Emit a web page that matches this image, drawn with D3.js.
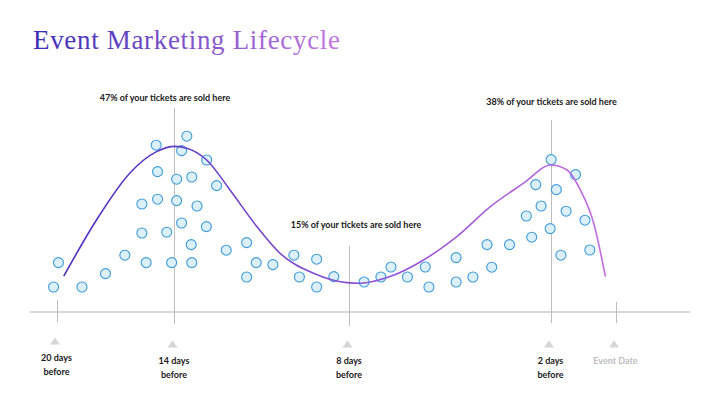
<!DOCTYPE html>
<html>
<head>
<meta charset="utf-8">
<script src="https://cdn.jsdelivr.net/npm/d3@7"></script>
<style>
  body { margin: 0; background: #fff; }
  svg { display: block; }
  .label { font-family: Lato, "Open Sans", sans-serif; font-weight: 700; font-size: 9px; fill: #1a1a1a; }
</style>
</head>
<body>
<svg id="chart" width="720" height="395"></svg>
<script>
// x = days before the event, y = ticket sales (relative)
const tickDays = [20, 14, 8, 2, 0];
const tickLabels = [["20 days", "before"], ["14 days", "before"], ["8 days", "before"], ["2 days", "before"], ["Event Date"]];

const dotDays = [19.90, 20.15, 18.70, 17.50, 16.51, 15.64, 15.64, 15.42, 14.91, 14.84,
  14.84, 14.37, 14.12, 13.91, 13.91, 13.74, 13.56, 13.39, 13.74, 13.21,
  12.89, 13.41, 13.39, 12.88, 12.54, 12.21, 11.51, 11.18, 11.51, 10.61,
  9.89, 9.70, 9.11, 9.11, 8.52, 7.55, 7.05, 6.75, 6.26, 5.73,
  5.62, 4.81, 4.81, 4.31, 3.75, 3.89, 3.22, 2.56, 2.72, 2.28,
  2.44, 2.01, 1.98, 1.82, 1.68, 1.52, 1.23, 0.94, 0.79];
const dotValues = [24.7, 12.5, 12.5, 19.2, 28.4, 39.5, 54.0, 24.7, 83.4, 70.2,
  56.4, 39.9, 24.7, 66.4, 55.7, 80.7, 87.9, 67.5, 44.5, 53.0,
  42.7, 33.7, 24.7, 76.0, 63.2, 30.9, 34.7, 24.7, 17.5, 23.7,
  28.4, 17.5, 26.4, 12.5, 17.7, 15.0, 17.5, 22.5, 17.5, 22.5,
  12.5, 27.2, 15.0, 17.5, 22.4, 33.7, 33.7, 37.4, 48.0, 53.0,
  63.7, 41.7, 76.2, 61.2, 28.4, 50.4, 68.7, 45.9, 31.0];

const trendDays = [19.63, 17.96, 16.26, 14.89, 13.97, 13.56, 12.88, 12.08, 11.16, 10.37,
  9.22, 8.08, 7.67, 6.78, 5.78, 4.79, 3.79, 2.80, 1.98, 1.49, 1.08, 0.67, 0.31];
const trendValues = [17.9, 46.0, 69.4, 80.2, 82.8, 81.9, 76.0, 61.0, 42.7, 29.4,
  19.4, 14.7, 14.4, 17.7, 26.0, 37.7, 52.7, 64.4, 73.5, 71.0, 61.0, 44.4, 17.7];

const peakDays = [14, 8, 2];
const peakTexts = ["47% of your tickets are sold here", "15% of your tickets are sold here", "38% of your tickets are sold here"];

const svg = d3.select("#chart");
const axisY = 312;

const xScale = d3.scaleLinear().domain(tickDays).range([56.5, 174, 349, 550.5, 615.5]);
const yScale = d3.scaleLinear().domain([0, 100]).range([axisY, 112]);

// title with gradient
const defs = svg.append("defs");
const titleGrad = defs.append("linearGradient")
  .attr("id", "titleGrad").attr("gradientUnits", "userSpaceOnUse")
  .attr("x1", 33).attr("x2", 340).attr("y1", 0).attr("y2", 0);
titleGrad.append("stop").attr("offset", "0%").attr("stop-color", "#3a2db6");
titleGrad.append("stop").attr("offset", "100%").attr("stop-color", "#c478df");

const lineGrad = defs.append("linearGradient")
  .attr("id", "lineGrad").attr("gradientUnits", "userSpaceOnUse")
  .attr("x1", xScale(20)).attr("x2", xScale(0)).attr("y1", 0).attr("y2", 0);
lineGrad.append("stop").attr("offset", "0%").attr("stop-color", "#4a2ec2");
lineGrad.append("stop").attr("offset", "100%").attr("stop-color", "#c46ee0");

svg.append("text")
  .attr("x", 33).attr("y", 49)
  .attr("font-family", "'Liberation Serif', serif")
  .attr("font-size", 27)
  .attr("textLength", 307)
  .attr("lengthAdjust", "spacing")
  .attr("fill", "url(#titleGrad)")
  .text("Event Marketing Lifecycle");

// baseline axis
svg.append("line")
  .attr("x1", 30).attr("x2", 690).attr("y1", axisY).attr("y2", axisY)
  .attr("stroke", "#b3b3b3").attr("stroke-width", 1);

// tick lines (the peaks get tall guide lines)
const tickTops = [300, 108, 246, 120, 302];
const tickBottoms = [322, 324, 326, 323, 323];
svg.append("g")
  .selectAll("line")
  .data(tickDays)
  .enter()
  .append("line")
  .attr("x1", (d) => Math.round(xScale(d)) + 0.5)
  .attr("x2", (d) => Math.round(xScale(d)) + 0.5)
  .attr("y1", (d, i) => tickTops[i])
  .attr("y2", (d, i) => tickBottoms[i])
  .attr("stroke", "#bdbdbd").attr("stroke-width", 1);

// small triangles under the axis
svg.append("g")
  .selectAll("path")
  .data(tickDays)
  .enter()
  .append("path")
  .attr("d", "M-5,3.5L0,-3.5L5,3.5Z")
  .attr("transform", (d, i) => `translate(${xScale(d) - 1.5},${i == 0 ? 341 : 344})`)
  .attr("fill", "#d6d6d6");

const tickGroups = svg.append("g")
  .selectAll("text")
  .data(tickLabels)
  .enter()
  .append("text")
  .attr("class", "label")
  .attr("text-anchor", "middle")
  .attr("x", (d, i) => xScale(tickDays[i]))
  .attr("y", (d, i) => (i == 0 ? 361 : 364))
  .style("fill", (d) => (d.length == 1 ? "#bdbdbd" : "#1a1a1a"));
tickGroups.selectAll("tspan")
  .data((d) => d)
  .enter()
  .append("tspan")
  .attr("x", function () { return d3.select(this.parentNode).attr("x"); })
  .attr("dy", (d, i) => (i == 0 ? 0 : 14))
  .text((d) => d);

// peak annotations
const peakOffsets = [-9, 7, 1];
const peakBaselines = [101, 228, 105];
svg.append("g")
  .selectAll("text")
  .data(peakTexts)
  .enter()
  .append("text")
  .attr("class", "label")
  .attr("text-anchor", "middle")
  .attr("x", (d, i) => xScale(peakDays[i]) + peakOffsets[i])
  .attr("y", (d, i) => peakBaselines[i])
  .text((d) => d);

// dots
const dots = dotDays.map((d, i) => ({ day: d, value: dotValues[i] }));
svg.append("g")
  .selectAll("circle")
  .data(dots)
  .enter()
  .append("circle")
  .attr("cx", (d) => xScale(d.day))
  .attr("cy", (d) => yScale(d.value))
  .attr("r", 5)
  .attr("fill", "#dcf0fc")
  .attr("stroke", "#3d9bd8")
  .attr("stroke-width", 1.1);

// trend curve
const trend = trendDays.map((d, i) => ({ day: d, value: trendValues[i] }));
svg.append("path")
  .datum(trend)
  .attr("fill", "none")
  .attr("stroke", "url(#lineGrad)")
  .attr("stroke-width", 1.6)
  .attr("d", d3.line()
    .x((d) => xScale(d.day))
    .y((d) => yScale(d.value))
    .curve(d3.curveMonotoneX));
</script>
</body>
</html>
